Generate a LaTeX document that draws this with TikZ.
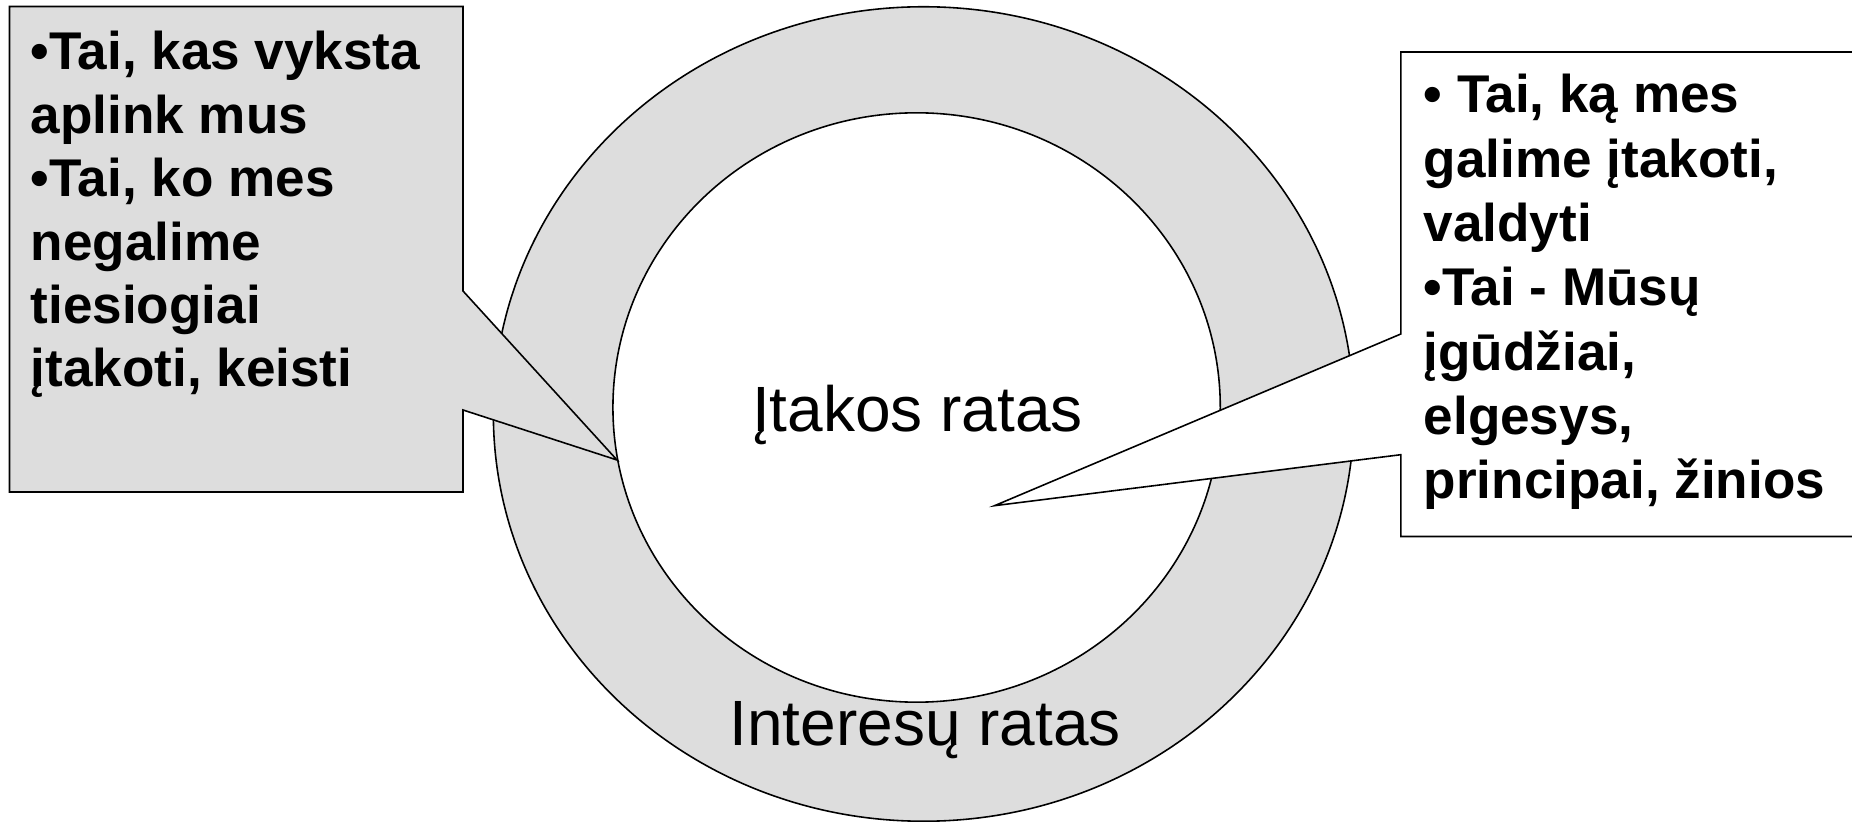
\documentclass[tikz,border=0pt]{standalone}
\usepackage{fontspec}
\setmainfont{Liberation Sans}
\usetikzlibrary{shapes.geometric}
\definecolor{ringgray}{HTML}{DDDDDD}

\begin{document}
\begin{tikzpicture}[
  x=0.01cm, y=-0.01cm,
  ring/.style={ellipse,draw,line width=0.45pt,fill=ringgray,inner sep=0pt},
  bubble/.style={draw,line width=0.45pt,line join=miter},
  bubbletext/.style={anchor=base west,align=left,inner sep=0pt,
    font=\bfseries\fontsize{15.1}{18.05}\selectfont},
  ringlabel/.style={anchor=base,inner sep=0pt,font=\fontsize{18.2}{21}\selectfont}
]
  \useasboundingbox (0,0) rectangle (1852,822);
  \node[ring,minimum width=8.6cm,minimum height=8.14cm] (interesai) at (923.6,414) {};
  \node[ring,fill=white,minimum width=6.07cm,minimum height=5.89cm] (itaka) at (916.6,407.5) {};
  \node[ringlabel] (itakaLabel) at (917.5,431.7) {Įtakos ratas};
  \node[ringlabel] (interesaiLabel) at (925,745) {Interesų ratas};

  \coordinate (leftTip) at (617,460);
  \coordinate (rightTip) at (994.5,505.7);
  \draw[bubble,fill=ringgray] (9.5,6.5) -- (463,6.5) -- (463,291) -- (leftTip)
    -- (463,410) -- (463,492) -- (9.5,492) -- cycle;
  \draw[bubble,fill=white] (1858,52) -- (1400.8,52) -- (1400.8,334) -- (rightTip)
    -- (1400.8,454.7) -- (1400.8,536.5) -- (1858,536.5);

  % base anchor sits on the last line
  \node[bubbletext] (isore) at (30,387) {•Tai, kas vyksta\\aplink mus\\•Tai, ko mes\\negalime\\tiesiogiai\\įtakoti, keisti};
  \node[bubbletext,font=\bfseries\fontsize{15.1}{18.3}\selectfont] (viduje) at (1423,499) {• Tai, ką mes\\galime įtakoti,\\valdyti\\•Tai - Mūsų\\įgūdžiai,\\elgesys,\\principai, žinios};
\end{tikzpicture}
\end{document}
